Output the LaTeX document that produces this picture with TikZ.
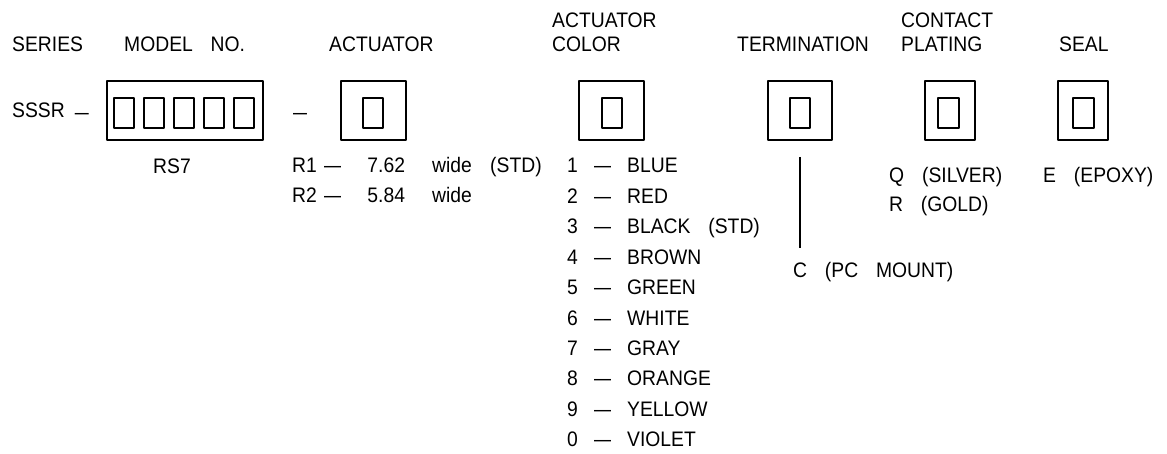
\documentclass[tikz,border=0pt]{standalone}
\usepackage{fontspec}
\setmainfont{Liberation Sans}[FakeStretch=0.92]
\usetikzlibrary{positioning}
\newcommand{\gap}{\hspace{0.85em}}
\newcommand{\col}[2]{\makebox[#1][l]{#2}}
\newcommand{\num}[1]{\makebox[75pt][l]{\makebox[58pt][c]{#1}}}
\newcommand{\dsh}{\makebox[34pt][l]{\hspace{1pt}\scalebox{0.88}[1]{---}}}

\begin{document}
\begin{tikzpicture}[x=1pt, y=-1pt, line join=round,
  lbl/.style={inner sep=0, anchor=base west, font=\fontsize{21}{24}\selectfont, align=left},
  frame/.style={draw, line width=1.3pt, inner sep=0, minimum height=59pt},
  slot/.style={draw, line width=1.3pt, inner sep=0, minimum width=20pt, minimum height=30pt}]
\useasboundingbox (0,0) rectangle (1167,454);
\node[lbl] (series)  at (12,52)   {SERIES};
\node[lbl] (model)   at (124,52)  {MODEL\gap NO.};
\node[lbl] (act)     at (329,52)  {ACTUATOR};
\node[lbl] (color)   at (552,52)  {ACTUATOR\\COLOR};
\node[lbl] (term)    at (737,52)  {TERMINATION};
\node[lbl] (plating) at (901,52)  {CONTACT\\PLATING};
\node[lbl] (seal)    at (1059,52) {SEAL};
\node[lbl] (sssr)    at (12,118)  {SSSR\hspace{10pt}\raisebox{-2pt}{\scalebox{1.3}[1]{--}}};
\node[lbl] (dash)    at (293,118) {\raisebox{-2pt}{\scalebox{1.3}[1]{--}}};
\node[frame, minimum width=156pt] (modelbox) at (185,110.5)  {};
\node[frame, minimum width=65pt]  (actbox)   at (373.5,110.5) {};
\node[frame, minimum width=65pt]  (colorbox) at (611.5,110.5) {};
\node[frame, minimum width=64pt]  (termbox)  at (800,110.5)   {};
\node[frame, minimum width=50pt]  (platebox) at (950,110.5)   {};
\node[frame, minimum width=50pt]  (sealbox)  at (1083,110.5)  {};
\foreach \k in {0,...,4}
  \node[slot] (m\k) at (124+30*\k,113) {};
\node[slot] (acts)   at (373,113)    {};
\node[slot] (colors) at (612,113)    {};
\node[slot] (terms)  at (800,113)    {};
\node[slot, minimum width=21pt] (plates) at (948.5,113) {};
\node[slot, minimum width=21pt] (seals)  at (1083.5,113) {};
\node[lbl] (rs7) at (153,174) {RS7};
\node[lbl] (r1)  at (292,173) {\col{31pt}{R1}\dsh\num{7.62}\col{58pt}{wide}(STD)};
\node[lbl] (r2)  at (292,203) {\col{31pt}{R2}\dsh\num{5.84}wide};
\foreach \n/\c [count=\i from 0] in {1/BLUE, 2/RED, 3/BLACK\gap(STD), 4/BROWN, 5/GREEN,
    6/WHITE, 7/GRAY, 8/ORANGE, 9/YELLOW, 0/VIOLET}
  \node[lbl] (c\n) at (567,173+30.4*\i) {\col{26pt}{\n}\dsh\c};
\coordinate (t1) at (800,157);
\coordinate (t2) at (800,248);
\draw[line width=1.3pt] (t1) -- (t2);
\node[lbl] (pc)     at (793,278)  {C\gap(PC\gap MOUNT)};
\node[lbl] (silver) at (889,183)  {Q\gap(SILVER)};
\node[lbl] (gold)   at (889,212)  {R\gap(GOLD)};
\node[lbl] (epoxy)  at (1043,183) {E\gap(EPOXY)};
\end{tikzpicture}
\end{document}
